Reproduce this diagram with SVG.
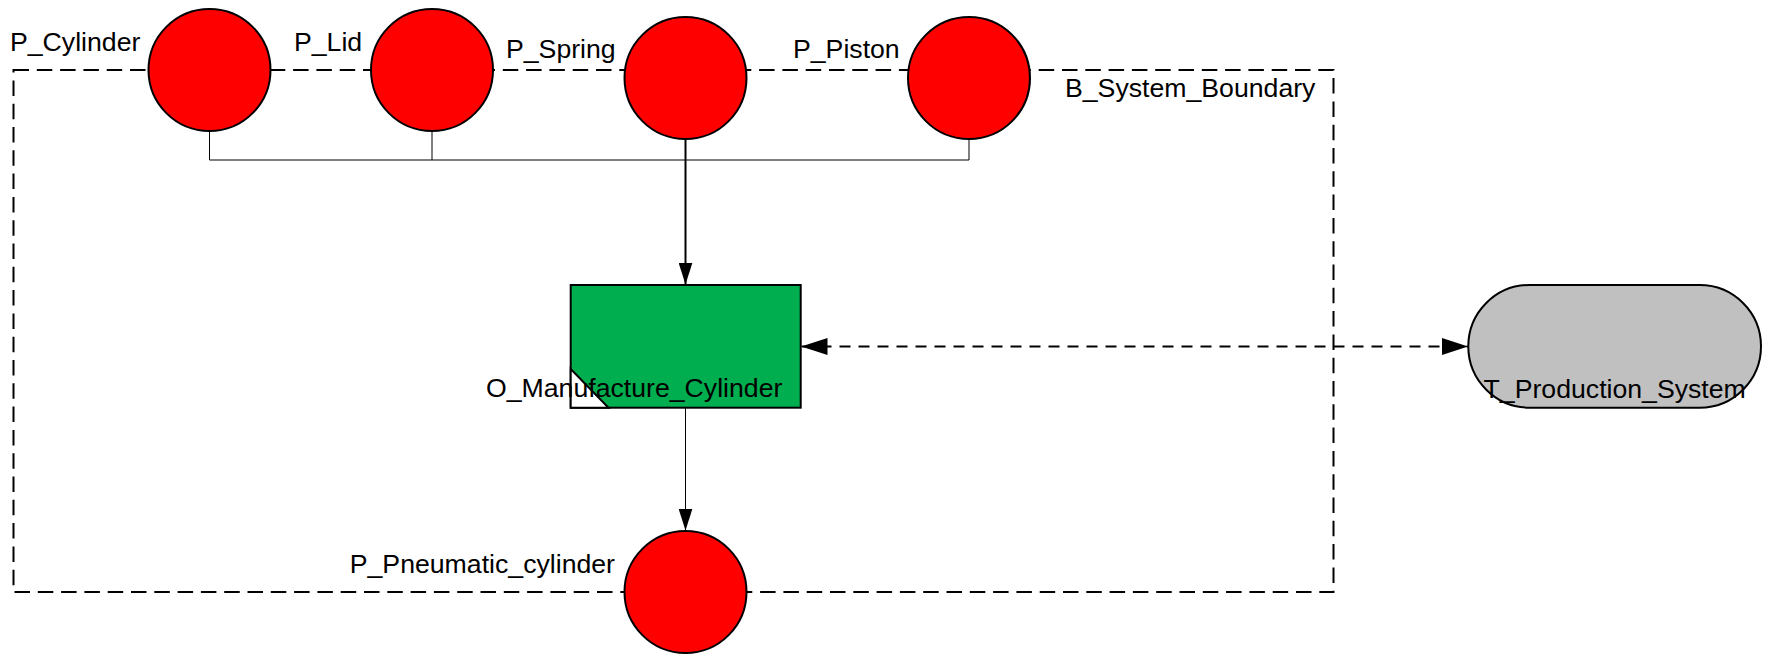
<svg xmlns="http://www.w3.org/2000/svg" width="1767" height="654" viewBox="0 0 1767 654">
  <style>
    .lbl { font-family: "Liberation Sans", Arial, sans-serif; font-size: 26.67px; fill: #000; }
    .part { fill: #ff0000; stroke: #000; stroke-width: 2; }
    .boundary { fill: none; stroke: #000; stroke-width: 2; stroke-dasharray: 15.5 7.8; }
    .thin { fill: none; stroke: #000; stroke-width: 1; }
    .flow { fill: none; stroke: #000; stroke-width: 2; }
    .link { fill: none; stroke: #000; stroke-width: 2; stroke-dasharray: 11 8; }
  </style>
  <defs>
    <marker id="arrowSmall" viewBox="0 0 22 14" refX="22" refY="7" markerWidth="22" markerHeight="14" markerUnits="userSpaceOnUse" orient="auto">
      <path d="M0,0 L22,7 L0,14 Z" fill="#000"/>
    </marker>
    <marker id="arrowWide" viewBox="0 0 26 17" refX="26" refY="8.5" markerWidth="26" markerHeight="17" markerUnits="userSpaceOnUse" orient="auto-start-reverse">
      <path d="M0,0 L26,8.5 L0,17 Z" fill="#000"/>
    </marker>
  </defs>

  <rect width="1767" height="654" fill="#ffffff"/>

  <!-- system boundary -->
  <g id="B_System_Boundary">
    <rect class="boundary" x="13.5" y="70" width="1320" height="522"/>
    <text class="lbl" x="1065" y="97">B_System_Boundary</text>
  </g>

  <!-- connectors -->
  <g id="connectors">
    <path class="thin" d="M209.5,131 V160 M432,131 V160 M969,139 V160 M209.5,160 H969"/>
    <path class="flow" d="M685.5,139 V284.5" marker-end="url(#arrowSmall)"/>
    <path class="thin" d="M685.5,407.5 V530.5" marker-end="url(#arrowSmall)"/>
    <path class="link" d="M801.5,346.5 H1468" marker-start="url(#arrowWide)" marker-end="url(#arrowWide)"/>
  </g>

  <g id="P_Cylinder">
    <circle class="part" cx="209.5" cy="70" r="61"/>
    <text class="lbl" x="10" y="51">P_Cylinder</text>
  </g>

  <g id="P_Lid">
    <circle class="part" cx="432" cy="70" r="61"/>
    <text class="lbl" x="294" y="51">P_Lid</text>
  </g>

  <g id="P_Spring">
    <circle class="part" cx="685.5" cy="78" r="61"/>
    <text class="lbl" x="506" y="58">P_Spring</text>
  </g>

  <g id="P_Piston">
    <circle class="part" cx="969" cy="78" r="61"/>
    <text class="lbl" x="793" y="58">P_Piston</text>
  </g>

  <g id="O_Manufacture_Cylinder">
    <rect x="570.7" y="285" width="230" height="122.7" fill="#00ad4f" stroke="#000" stroke-width="2"/>
    <path d="M570.7,369 L608.5,407.7 L570.7,407.7 Z" fill="#ffffff" stroke="#000" stroke-width="2" stroke-linejoin="miter"/>
    <text class="lbl" x="486" y="397">O_Manufacture_Cylinder</text>
  </g>

  <g id="T_Production_System">
    <rect x="1468.3" y="285" width="292.7" height="122.7" rx="61.35" ry="61.35" fill="#c0c0c0" stroke="#000" stroke-width="2"/>
    <text class="lbl" x="1614.7" y="398" text-anchor="middle">T_Production_System</text>
  </g>

  <g id="P_Pneumatic_cylinder">
    <circle class="part" cx="685.5" cy="592" r="61"/>
    <text class="lbl" x="615" y="573" text-anchor="end">P_Pneumatic_cylinder</text>
  </g>
</svg>
